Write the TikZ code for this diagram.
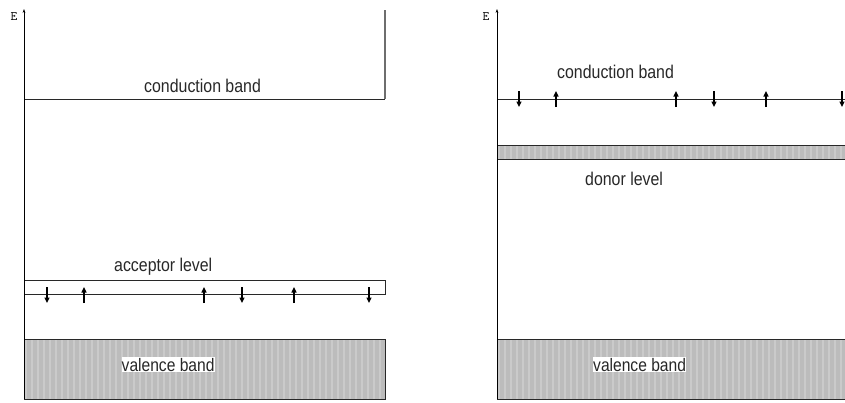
\documentclass[tikz,border=0pt]{standalone}
\usepackage{fontspec}
\setmainfont{Liberation Sans}
\usetikzlibrary{arrows.meta}
\definecolor{bandgray}{RGB}{188,188,188}
\definecolor{stripegray}{RGB}{202,202,202}
\definecolor{linegray}{RGB}{40,40,40}
\definecolor{edgegray}{RGB}{110,110,110}
% striped grey band: x0, y0, x1, y1
\newcommand\stripedband[4]{%
  \begin{scope}
    \clip (#1,#2) rectangle (#3,#4);
    \fill[bandgray] (#1,#2) rectangle (#3,#4);
    \foreach \s in {0,6,...,372}
      \draw[stripegray, line width=2.4pt] (#1+\s+2,#2) -- (#1+\s+2,#4);
  \end{scope}}
% labels are set a little taller than wide
\newcommand\tall[1]{\scalebox{1}[1.16]{#1}}
\begin{document}
\begin{tikzpicture}[x=1pt,y=-1pt,
  axisline/.style={draw=black, line width=0.9pt, -{Stealth[length=4pt,width=2.8pt]}},
  level/.style={draw=linegray, line width=1pt},
  spin/.style={line width=1.8pt, -{Triangle[length=5.5pt,width=5pt]}},
  lbl/.style={font=\fontsize{15.9}{18}\selectfont, anchor=base west, inner sep=0pt, text=linegray},
  vlbl/.style={font=\fontsize{15.6}{18}\selectfont, anchor=base west, inner xsep=0pt, inner ysep=1.2pt, fill=white, text=linegray},
  elbl/.style={font=\ttfamily\fontsize{13}{15}\selectfont, inner sep=0pt}]
\useasboundingbox (0,0) rectangle (845,402);

% ---------- p-type (acceptor) ----------
\stripedband{24}{339}{385}{399}
\draw[level] (24,339) rectangle (385,399);
\draw[level] (24,280) -- (385,280) -- (385,294) -- (24,294);
\draw[level] (24,99) -- (385,99);
\draw[edgegray, line width=1.4pt] (385,99) -- (385,10);
\draw[axisline] (24,399) -- (24,9);
\node[elbl] (eL) at (14,16.5) {E};
\node[lbl] (cbL) at (144,92.7) {\tall{conduction band}};
\node[lbl] (acc) at (114,271) {\tall{acceptor level}};
\node[vlbl] (vbL) at (121.5,371) {\tall{valence band}};
\foreach \x in {47,242,369} \draw[spin] (\x,287) -- (\x,303);
\foreach \x in {84,204,294} \draw[spin] (\x,303) -- (\x,287);

% ---------- n-type (donor) ----------
\stripedband{497}{339}{850}{399}
\draw[level] (850,339) -- (497,339) -- (497,399) -- (850,399);
\stripedband{497}{145}{850}{159}
\draw[level] (497,145) -- (850,145);
\draw[level] (497,159) -- (850,159);
\draw[level] (497,99) -- (850,99);
\draw[axisline] (497,399) -- (497,9);
\node[elbl] (eR) at (486,16.5) {E};
\node[lbl] (cbR) at (557,78) {\tall{conduction band}};
\node[lbl] (don) at (585,185.7) {\tall{donor level}};
\node[vlbl] (vbR) at (593,371) {\tall{valence band}};
\foreach \x in {519,714,842} \draw[spin] (\x,91) -- (\x,107);
\foreach \x in {556,676,766} \draw[spin] (\x,107) -- (\x,91);
\end{tikzpicture}
\end{document}
